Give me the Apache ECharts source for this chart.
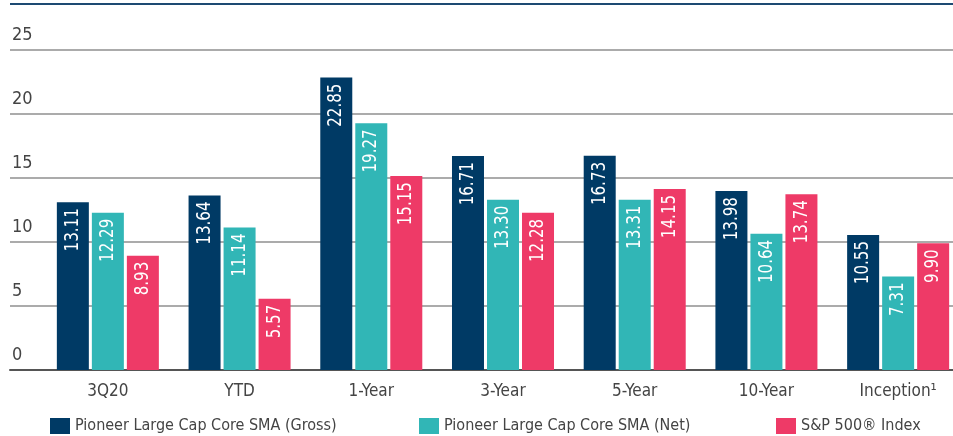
<!DOCTYPE html>
<html><head><meta charset="utf-8">
<script src="https://cdn.jsdelivr.net/npm/echarts@6/dist/echarts.min.js"></script>
<style>html,body{margin:0;padding:0;background:#fff;overflow:hidden}#c{width:964px;height:436px}</style>
</head><body><div id="c"></div>
<script>
var categories = ['3Q20', 'YTD', '1-Year', '3-Year', '5-Year', '10-Year', 'Inception\u00B9'];
var seriesNames = ['Pioneer Large Cap Core SMA (Gross)', 'Pioneer Large Cap Core SMA (Net)', 'S&P 500\u00AE Index'];
var grossValues = [13.11, 13.64, 22.85, 16.71, 16.73, 13.98, 10.55];
var netValues = [12.29, 11.14, 19.27, 13.30, 13.31, 10.64, 7.31];
var spValues = [8.93, 5.57, 15.15, 12.28, 14.15, 13.74, 9.90];
var yTicks = [0, 5, 10, 15, 20, 25];

var colors = ['#003a65', '#31b6b6', '#ee3a67'];
var cond = "'DejaVu Sans Condensed', 'DejaVu Sans', sans-serif";
var chart = echarts.init(document.getElementById('c'), null, {renderer: 'canvas'});

function mkSeries(i, data) {
  return {
    type: 'bar', name: seriesNames[i], data: data,
    xAxisIndex: 1, yAxisIndex: 1,
    barWidth: 32, barGap: '9.4%',
    itemStyle: {color: colors[i]}
  };
}
function mkLabels(i, data) {
  return {
    type: 'custom', xAxisIndex: 1, yAxisIndex: 1, z: 5, silent: true,
    data: data.map(function (v, k) { return [k, v]; }),
    encode: {x: 0, y: 1},
    renderItem: function (params, api) {
      var p = api.coord([api.value(0), api.value(1)]);
      var x = p[0] + (i - 1) * 35;
      return {
        type: 'text', x: x, y: p[1] + 6, rotation: Math.PI / 2, scaleX: 0.84,
        style: {text: api.value(1).toFixed(2), fill: '#fff', fontSize: 20, fontFamily: cond,
                align: 'right', verticalAlign: 'middle'}
      };
    }
  };
}
function mkLegend(i, left) {
  return {
    data: [seriesNames[i]], left: left, top: 418,
    itemWidth: 20, itemHeight: 16, itemGap: 0, itemTextGap: 12, icon: 'rect',
    padding: 0,
    textStyle: {fontSize: 16, color: '#444', fontFamily: cond}
  };
}

chart.setOption({
  animation: false,
  graphic: [{type: 'rect', shape: {x: 10, y: 3, width: 943, height: 2}, style: {fill: '#1d4a72'}}],
  legend: [mkLegend(0, 50), mkLegend(1, 419), mkLegend(2, 776)],
  grid: [
    {left: 10, right: 11, top: 50, bottom: 66},
    {left: 42, right: 0, top: 50, bottom: 66}
  ],
  xAxis: [
    {gridIndex: 0, type: 'value', min: 0, max: 1, axisLabel: {show: false}, axisTick: {show: false},
     splitLine: {show: false}, axisLine: {show: true, lineStyle: {color: '#555', width: 2}}},
    {gridIndex: 1, type: 'category', data: categories, axisTick: {show: false}, axisLine: {show: false},
     axisLabel: {fontSize: 17, color: '#444', margin: 13, fontFamily: cond}}
  ],
  yAxis: [
    {gridIndex: 0, type: 'value', min: 0, max: 25, interval: 5,
     axisLine: {show: false}, axisTick: {show: false},
     splitLine: {show: true, lineStyle: {color: '#8f8f8f', width: 1.5}},
     axisLabel: {inside: true, margin: 2, fontSize: 18, color: '#444', fontFamily: cond,
       verticalAlign: 'bottom', lineHeight: 18, padding: [0, 0, 6, 0],
       formatter: function (v) { return yTicks.indexOf(v) >= 0 ? String(v) : ''; }}},
    {gridIndex: 1, type: 'value', min: 0, max: 25, interval: 5, show: false}
  ],
  series: [mkSeries(0, grossValues), mkSeries(1, netValues), mkSeries(2, spValues),
           mkLabels(0, grossValues), mkLabels(1, netValues), mkLabels(2, spValues)]
});
</script></body></html>
